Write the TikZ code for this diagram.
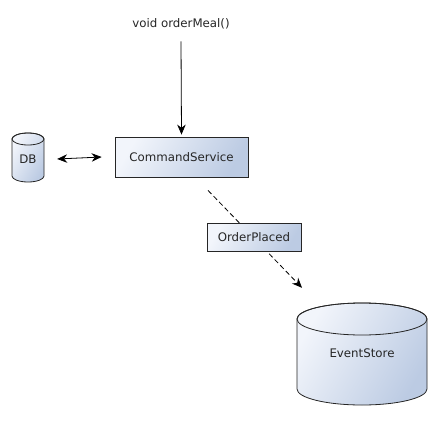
\documentclass[tikz,border=0pt]{standalone}
\usepackage{fontspec}
\setmainfont{DejaVu Sans}
\usetikzlibrary{arrows.meta}
\definecolor{fillA}{HTML}{F2F5FB}
\definecolor{fillB}{HTML}{BCCBE3}
\tikzset{
  gradfill/.style={left color=fillA, right color=fillB, shading angle=60},
  boxnode/.style={draw=black!85, line width=0.8pt, gradfill, minimum width=#1, minimum height=28pt, inner sep=0pt},
  lbl/.style={font=\fontsize{11.8}{13}\selectfont, text=black!85},
  arr/.style={line width=0.8pt, -{Stealth[length=10pt,width=8.5pt]}},
  cyl/.style={draw=black!85, line width=0.8pt},
}
\begin{document}
\begin{tikzpicture}[x=1pt,y=-1pt]
\useasboundingbox (0,0) rectangle (433,420);
% nodes
\node[lbl, inner sep=2pt] (call) at (181,24) {void orderMeal()};
\node[boxnode=133pt, minimum height=40pt] (cs) at (181.5,157) {};
\node[lbl] at (cs.center) {CommandService};
% DB cylinder
\path[cyl, gradfill] (12,139) -- (12,176) arc[start angle=180, end angle=360, x radius=16, y radius=-6] -- (44,139) arc[start angle=0, end angle=180, x radius=16, y radius=-6] -- cycle;
\draw[cyl] (12,139) arc[start angle=180, end angle=360, x radius=16, y radius=-6] arc[start angle=0, end angle=180, x radius=16, y radius=-6];
\node[lbl, minimum width=32pt, minimum height=49pt, inner sep=0pt] (db) at (28,159) {DB};
% EventStore cylinder
\path[cyl, gradfill] (297,319) -- (297,389) arc[start angle=180, end angle=360, x radius=65, y radius=-16] -- (427,319) arc[start angle=0, end angle=180, x radius=65, y radius=-16] -- cycle;
\draw[cyl] (297,319) arc[start angle=180, end angle=360, x radius=65, y radius=-16] arc[start angle=0, end angle=180, x radius=65, y radius=-16];
\node[minimum width=130pt, minimum height=102pt, inner sep=0pt] (es) at (362,354) {};
\node[lbl] at (362,353) {EventStore};
% connectors
\draw[arr] ([yshift=-10pt]call.south) -- ([yshift=2pt]cs.north);
\draw[line width=0.8pt, {Stealth[length=10pt,width=8.5pt]}-{Stealth[length=10pt,width=8.5pt]}] ([xshift=13pt]db.east) -- ([xshift=-13pt]cs.west);
\coordinate (ds) at ([shift={(26.5,13)}]cs.south);
\coordinate (de) at ([shift={(-60,-15)}]es.north);
\draw[arr, dashed, dash pattern=on 5pt off 3pt] (ds) -- (de);
\node[boxnode=94pt, lbl] (op) at (254,237) {OrderPlaced};
\end{tikzpicture}
\end{document}
